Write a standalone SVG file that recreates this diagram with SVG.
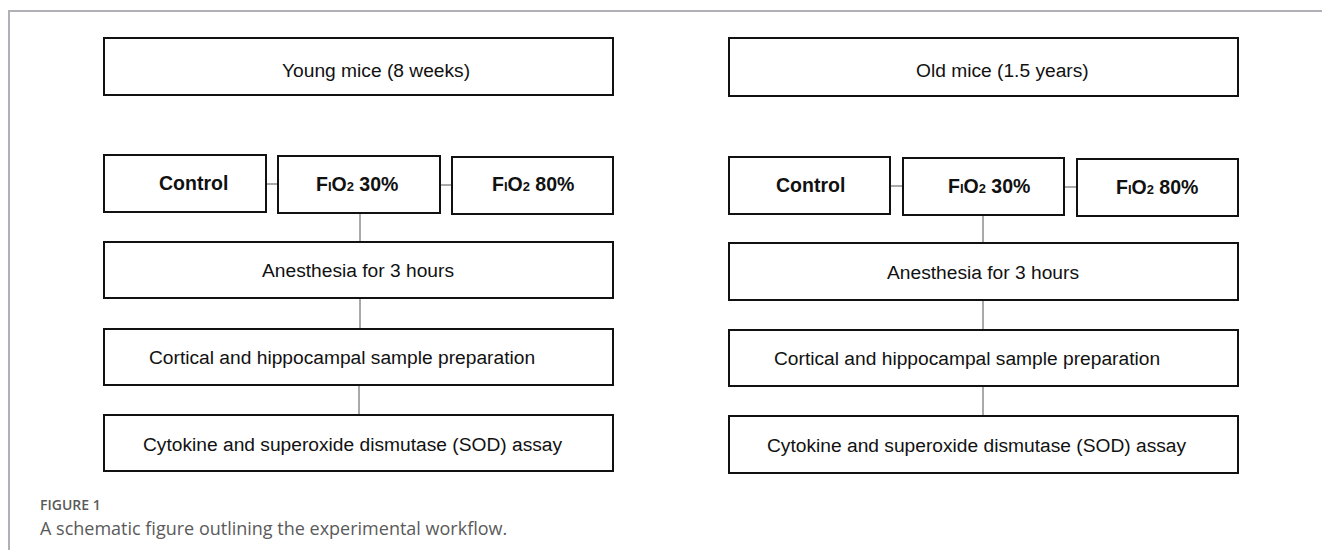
<svg xmlns="http://www.w3.org/2000/svg" width="1322" height="550" viewBox="0 0 1322 550">
<style>
.box{fill:#fff;stroke:#111;stroke-width:2}
.t{font-family:"Liberation Sans",Arial,sans-serif;font-size:19.2px;fill:#111}
.b{font-family:"Liberation Sans",Arial,sans-serif;font-size:19.5px;font-weight:bold;fill:#111}
.sm{font-size:13px}
.conn line{stroke:#555;stroke-width:1}
.frame{stroke:#b0b0b6;stroke-width:2;fill:none}
.cap{font-family:"Open Sans",sans-serif;fill:#5a5a5a}
</style>
<path class="frame" d="M9 550 V11 H1322"/>
<g class="conn">
<line x1="266" y1="184" x2="278" y2="184"/>
<line x1="440" y1="185" x2="452" y2="185"/>
<line x1="360" y1="213" x2="360" y2="242"/>
<line x1="360" y1="298" x2="360" y2="329"/>
<line x1="359" y1="385" x2="359" y2="415"/>
<line x1="890" y1="186" x2="903" y2="186"/>
<line x1="1064" y1="187" x2="1077" y2="187"/>
<line x1="983" y1="215" x2="983" y2="243"/>
<line x1="983" y1="300" x2="983" y2="330"/>
<line x1="983" y1="386" x2="983" y2="416"/>
</g>
<g id="young"><rect class="box" x="104" y="38" width="509" height="57"/><text class="t" x="282" y="77">Young mice (8 weeks)</text></g>
<g id="young-control"><rect class="box" x="104" y="155" width="162" height="57"/><text class="b" x="159" y="190">Control</text></g>
<g id="young-fio30"><rect class="box" x="278" y="156" width="162" height="57"/><text class="b" x="316" y="191">F<tspan class="sm">I</tspan>O<tspan class="sm">2</tspan> 30%</text></g>
<g id="young-fio80"><rect class="box" x="452" y="157" width="161" height="57"/><text class="b" x="492" y="191">F<tspan class="sm">I</tspan>O<tspan class="sm">2</tspan> 80%</text></g>
<g id="young-anes"><rect class="box" x="104" y="242" width="509" height="56"/><text class="t" x="262" y="277">Anesthesia for 3 hours</text></g>
<g id="young-cort"><rect class="box" x="104" y="329" width="509" height="56"/><text class="t" x="149" y="364">Cortical and hippocampal sample preparation</text></g>
<g id="young-cyto"><rect class="box" x="104" y="415" width="509" height="56"/><text class="t" x="143" y="451">Cytokine and superoxide dismutase (SOD) assay</text></g>
<g id="old"><rect class="box" x="729" y="38" width="509" height="58"/><text class="t" x="916" y="77">Old mice (1.5 years)</text></g>
<g id="old-control"><rect class="box" x="729" y="157" width="161" height="57"/><text class="b" x="776" y="192">Control</text></g>
<g id="old-fio30"><rect class="box" x="903" y="158" width="161" height="57"/><text class="b" x="948" y="193">F<tspan class="sm">I</tspan>O<tspan class="sm">2</tspan> 30%</text></g>
<g id="old-fio80"><rect class="box" x="1077" y="159" width="161" height="57"/><text class="b" x="1116" y="194">F<tspan class="sm">I</tspan>O<tspan class="sm">2</tspan> 80%</text></g>
<g id="old-anes"><rect class="box" x="729" y="243" width="509" height="57"/><text class="t" x="887" y="279">Anesthesia for 3 hours</text></g>
<g id="old-cort"><rect class="box" x="729" y="330" width="509" height="56"/><text class="t" x="774" y="365">Cortical and hippocampal sample preparation</text></g>
<g id="old-cyto"><rect class="box" x="729" y="416" width="509" height="57"/><text class="t" x="767" y="452">Cytokine and superoxide dismutase (SOD) assay</text></g>
<g id="caption">
<text class="cap" x="40" y="510" font-size="14" font-weight="600">FIGURE 1</text>
<text class="cap" x="40" y="535" font-size="18">A schematic figure outlining the experimental workflow.</text>
</g>
</svg>
